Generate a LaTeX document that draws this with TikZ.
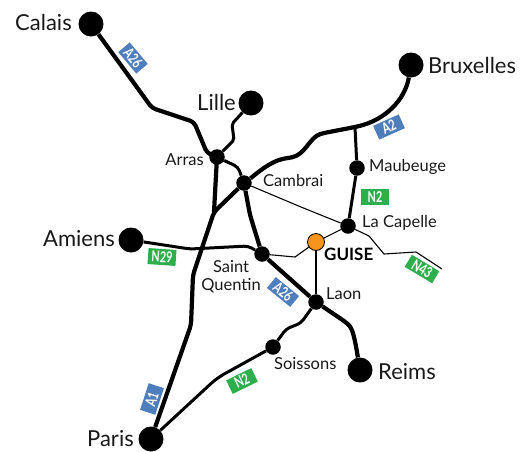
\documentclass[tikz,border=0pt]{standalone}
\usepackage{fontspec}
\setmainfont{Lato}
\usetikzlibrary{backgrounds}
\definecolor{roadblue}{HTML}{4F7EBD}
\definecolor{roadgreen}{HTML}{2FAE4E}
\definecolor{guiseor}{HTML}{F7941E}
\tikzset{
  bigcity/.style={circle,fill=black,inner sep=0pt,minimum size=25pt},
  smallcity/.style={circle,fill=black,inner sep=0pt,minimum size=15.5pt},
  guisecity/.style={circle,fill=guiseor,draw=black,line width=.8pt,inner sep=0pt,minimum size=17pt},
  biglabel/.style={inner sep=0pt,font=\fontsize{22}{24}\selectfont,text=black!90},
  smalllabel/.style={inner sep=0pt,font=\fontsize{16.5}{18.5}\selectfont,text=black!90,align=center},
  major/.style={draw=black,line width=4.2pt,rounded corners=4pt},
  medium/.style={draw=black,line width=3pt,rounded corners=4pt},
  minor/.style={draw=black,line width=1.1pt},
  shield/.style={inner sep=0pt,text=white,font=\fontsize{15}{15}\selectfont\bfseries,minimum height=15pt,text height=10.5pt,text depth=0pt},
  blueshield/.style={shield,fill=roadblue,minimum width=28pt},
  greenshield/.style={shield,fill=roadgreen,minimum width=28pt}
}
\newcommand{\nar}[1]{\scalebox{.72}[1]{#1}}
\begin{document}
\begin{tikzpicture}[x=1pt,y=-1pt]
\useasboundingbox (0,0) rectangle (522,451);
% cities
\node[bigcity] (calais) at (91,24) {};
\node[bigcity] (lille) at (251,103) {};
\node[bigcity] (bruxelles) at (411,65) {};
\node[bigcity] (amiens) at (131,240) {};
\node[bigcity] (reims) at (360,370) {};
\node[bigcity] (paris) at (151,439) {};
\node[smallcity] (arras) at (217,157) {};
\node[smallcity] (cambrai) at (244,183) {};
\node[smallcity] (maubeuge) at (357,168) {};
\node[smallcity] (capelle) at (348,226) {};
\node[smallcity] (stq) at (262,254) {};
\node[smallcity] (laon) at (316,302) {};
\node[smallcity] (soissons) at (273,347) {};
\node[guisecity] (guise) at (316,242) {};
% junctions
\coordinate (fork) at (214,212);
\coordinate (a2j) at (355,127);
\coordinate (n43end) at (442,269);
\begin{pgfonlayer}{background}
\draw[major] (calais) -- (152,108) -- (194,122) -- (207,153) -- (arras);
\draw[medium,rounded corners=2pt] (lille) -- (232,124) -- (234,140) -- (arras);
\draw[medium] (arras) -- (238,167) -- (cambrai);
\draw[major] (arras.center) -- (fork);
\draw[major] (cambrai) -- (fork) -- (193,275) -- (191,325) -- (paris);
\draw[major] (cambrai) -- (250,215) -- (stq);
\draw[major] (stq) -- (laon);
\draw[major] (laon) -- (347,323) .. controls (353,330) and (355,340) .. (reims);
\draw[medium] (laon) -- (301,323) -- (286,329) -- (soissons);
\draw[medium,rounded corners=8pt] (soissons) -- (217,378) -- (paris);
\draw[major] (cambrai) .. controls (255,175) and (270,161) .. (288,158)
  .. controls (305,155) and (310,137) .. (324,133)
  -- (a2j) .. controls (385,120) and (405,100) .. (bruxelles);
\draw[medium] (a2j) -- (maubeuge);
\draw[medium] (maubeuge) -- (capelle);
\draw[medium] (amiens) -- (190,249) -- (248,246) -- (stq);
\draw[minor] (cambrai) -- (301,207) -- (capelle);
\draw[minor] (capelle) -- (guise);
\draw[minor] (guise) -- (295,257) -- (stq);
\draw[minor] (guise) -- (laon);
\draw[minor] (capelle) -- (369,236) -- (384,254) -- (416,252) -- (n43end);
\end{pgfonlayer}
% labels
\node[biglabel,anchor=east] (lcalais) at (72,22) {Calais};
\node[biglabel,anchor=east] (llille) at (236,102) {Lille};
\node[biglabel,anchor=west] (lbrux) at (428,65) {Bruxelles};
\node[biglabel,anchor=east] (lamiens) at (115,239) {Amiens};
\node[biglabel,anchor=west] (lreims) at (378,372) {Reims};
\node[biglabel,anchor=east] (lparis) at (134,439) {Paris};
\node[smalllabel,anchor=east] (larras) at (204,160) {Arras};
\node[smalllabel,anchor=west] (lcambrai) at (263,180) {Cambrai};
\node[smalllabel,anchor=west] (lmaub) at (369,167) {Maubeuge};
\node[smalllabel,anchor=west] (lcap) at (362,223) {La Capelle};
\node[smalllabel,anchor=north east] (lstq) at (261,260) {Saint\\Quentin};
\node[smalllabel,anchor=west] (llaon) at (326,294) {Laon};
\node[smalllabel,anchor=west] (lsoi) at (274,364) {Soissons};
\node[anchor=west,inner sep=0pt,font=\fontsize{17}{19}\selectfont\bfseries] (lguise) at (324,254) {GUISE};
% shields
\node[blueshield,rotate=-50] (s1) at (133,58) {\nar{A26}};
\node[blueshield,rotate=24] (s2) at (389,127) {\nar{A2}};
\node[greenshield,minimum height=16pt] (s3) at (375,197) {\nar{N2}};
\node[greenshield,minimum height=16pt,rotate=-4] (s4) at (162,257) {\nar{N29}};
\node[greenshield,minimum width=32pt,minimum height=14pt,rotate=-31] (s5) at (422,269) {\nar{N43}};
\node[blueshield,minimum width=30pt,minimum height=14pt,rotate=-39] (s6) at (283,292) {\nar{A26}};
\node[blueshield,minimum height=16pt,rotate=72] (s7) at (152,399) {\nar{A1}};
\node[greenshield,rotate=26] (s8) at (242,381) {\nar{N2}};
\end{tikzpicture}
\end{document}
